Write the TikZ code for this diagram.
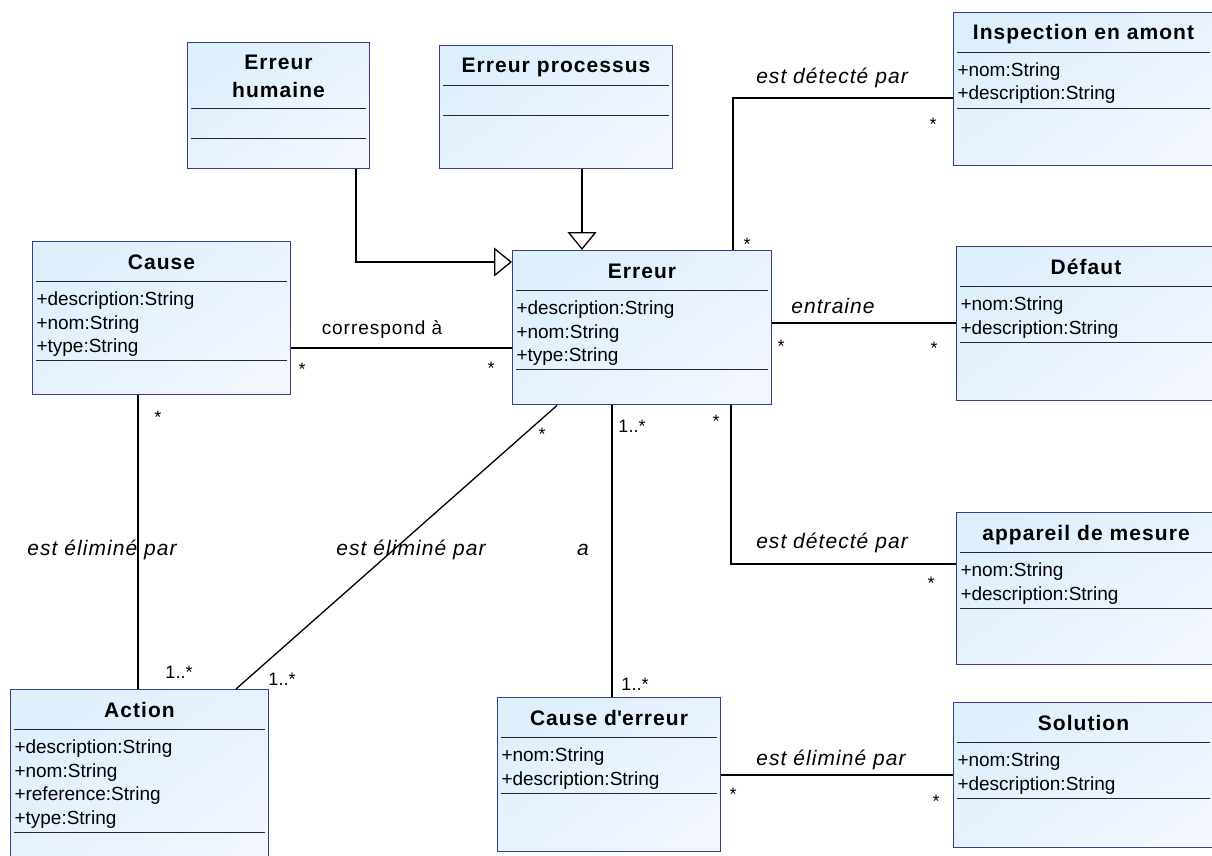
\documentclass[tikz,border=0pt]{standalone}
\usepackage{fontspec}
\setmainfont{Liberation Sans}
\newfontfamily\spacedfont[LetterSpace=5]{Liberation Sans}
\usepackage{tikz}
\usetikzlibrary{arrows.meta,positioning,shapes.multipart}

\definecolor{clsborder}{RGB}{60,60,140}
\definecolor{clsfill}{RGB}{222,239,252}
\definecolor{clsfade}{RGB}{241,246,255}

% struts for titles and attribute lines
\newcommand{\tstrut}{\rule[-8pt]{0pt}{31pt}}
\newcommand{\astrut}{\rule[-3.5pt]{0pt}{23pt}}
\newcommand{\attrfont}{\fontsize{19}{23.5}\selectfont\lineskiplimit=-20pt\relax}

\begin{document}
\begin{tikzpicture}[
    x=1pt, y=-1pt,
    cls/.style={rectangle split, rectangle split parts=3,
        rectangle split draw splits=false,
        draw=clsborder, line width=1pt,
        top color=clsfill, bottom color=clsfade, shading angle=35,
        anchor=north west, inner xsep=4pt, inner ysep=4pt,
        font=\attrfont, align=left,
        every text node part/.style={align=center,
            font=\spacedfont\bfseries\fontsize{21}{28}\selectfont}},
    sep/.style={draw=black!85, line width=1pt},
    assoc/.style={line width=1.3pt},
    gen/.style={-{Triangle[open, length=18pt, width=29pt]}, line width=1.3pt},
    role/.style={font=\spacedfont\itshape\fontsize{21}{24}\selectfont},
    mult/.style={font=\fontsize{18}{20}\selectfont, inner sep=0pt}
]
    \path[use as bounding box, fill=white] (0,0) rectangle (1212,856);

    % Classes
    \node[cls, text width=174pt] (humaine) at (187,42)
        {\rule{0pt}{23pt}Erreur\\humaine\rule[-6pt]{0pt}{6pt}
         \nodepart{two}\rule{0pt}{21pt}
         \nodepart{three}\rule{0pt}{21pt}};
    \node[cls, text width=225pt] (processus) at (439,45)
        {\tstrut Erreur processus
         \nodepart{two}\rule{0pt}{21pt}
         \nodepart{three}\rule{0pt}{44pt}};
    \node[cls, text width=252pt] (inspection) at (953,12)
        {\tstrut Inspection en amont
         \nodepart{two}\astrut+nom:String\\\astrut+description:String
         \nodepart{three}\rule{0pt}{48pt}};
    \node[cls, text width=250pt] (cause) at (32,241)
        {\tstrut Cause
         \nodepart{two}\astrut+description:String\\\astrut+nom:String\\\astrut+type:String
         \nodepart{three}\rule{0pt}{25pt}};
    \node[cls, text width=251pt] (erreur) at (512,250)
        {\tstrut Erreur
         \nodepart{two}\astrut+description:String\\\astrut+nom:String\\\astrut+type:String
         \nodepart{three}\rule{0pt}{26pt}};
    \node[cls, text width=251pt] (defaut) at (956,246)
        {\tstrut Défaut
         \nodepart{two}\astrut+nom:String\\\astrut+description:String
         \nodepart{three}\rule{0pt}{49pt}};
    \node[cls, text width=251pt] (appareil) at (956,512)
        {\tstrut appareil de mesure
         \nodepart{two}\astrut+nom:String\\\astrut+description:String
         \nodepart{three}\rule{0pt}{47pt}};
    \node[cls, text width=250pt] (action) at (10,689)
        {\tstrut Action
         \nodepart{two}\astrut+description:String\\\astrut+nom:String\\\astrut+reference:String\\\astrut+type:String
         \nodepart{three}\rule{0pt}{40pt}};
    \node[cls, text width=215pt] (causeerr) at (497,697)
        {\tstrut Cause d\textquotesingle erreur
         \nodepart{two}\astrut+nom:String\\\astrut+description:String
         \nodepart{three}\rule{0pt}{49pt}};
    \node[cls, text width=252pt] (solution) at (953,702)
        {\tstrut Solution
         \nodepart{two}\astrut+nom:String\\\astrut+description:String
         \nodepart{three}\rule{0pt}{40pt}};

    % compartment lines
    \foreach \c in {humaine,processus,inspection,cause,erreur,defaut,appareil,action,causeerr,solution} {
        \draw[sep] ([xshift=4pt]\c.text split west) -- ([xshift=-4pt]\c.text split east);
        \draw[sep] ([xshift=4pt]\c.two split west) -- ([xshift=-4pt]\c.two split east);
    }

    % Generalisations
    \draw[gen] (humaine.south -| 356,0) |- (erreur.west |- 0,262);
    \draw[gen] (processus.south -| 582,0) -- (erreur.north -| 582,0);

    % Associations
    \draw[assoc] (erreur.north -| 733,0) |- (inspection.west |- 0,98);
    \draw[assoc] (cause.east |- 0,348) -- (erreur.west |- 0,348);
    \draw[assoc] (erreur.east |- 0,323) -- (defaut.west |- 0,323);
    \draw[assoc] (erreur.south -| 731,0) |- (appareil.west |- 0,564);
    \draw[assoc] (erreur.south -| 612,0) -- (causeerr.north -| 612,0);
    \draw[assoc] (erreur.south -| 557,0) -- (action.north -| 236,0);
    \draw[assoc] (cause.south -| 138,0) -- (action.north -| 138,0);
    \draw[assoc] (causeerr.east |- 0,775) -- (solution.west |- 0,775);

    % Role names
    \node[role] (detecte1) at (832,78) {est détecté par};
    \node[role] (correspond) at (382,329) {\upshape\fontsize{19}{24}\selectfont correspond à};
    \node[role] (entraine) at (833,306) {entraine};
    \node[role] (detecte2) at (832,543) {est détecté par};
    \node[role] (avoir) at (583,550) {a};
    \node[role] (elimine1) at (102,550) {est éliminé par};
    \node[role] (elimine2) at (411,550) {est éliminé par};
    \node[role] (elimine3) at (831,760) {est éliminé par};

    % Multiplicities
    \node[mult] (m1) at (747,244) {*};
    \node[mult] (m2) at (933,124) {*};
    \node[mult] (m3) at (302,369) {*};
    \node[mult] (m4) at (491,368) {*};
    \node[mult] (m5) at (781,346) {*};
    \node[mult] (m6) at (934,348) {*};
    \node[mult] (m7) at (716,421) {*};
    \node[mult] (m8) at (931,583) {*};
    \node[mult] (m9) at (632,426) {1..*};
    \node[mult] (m10) at (635,684) {1..*};
    \node[mult] (m11) at (542,434) {*};
    \node[mult] (m12) at (282,679) {1..*};
    \node[mult] (m13) at (158,417) {*};
    \node[mult] (m14) at (179,672) {1..*};
    \node[mult] (m15) at (733,794) {*};
    \node[mult] (m16) at (936,801) {*};
\end{tikzpicture}
\end{document}
